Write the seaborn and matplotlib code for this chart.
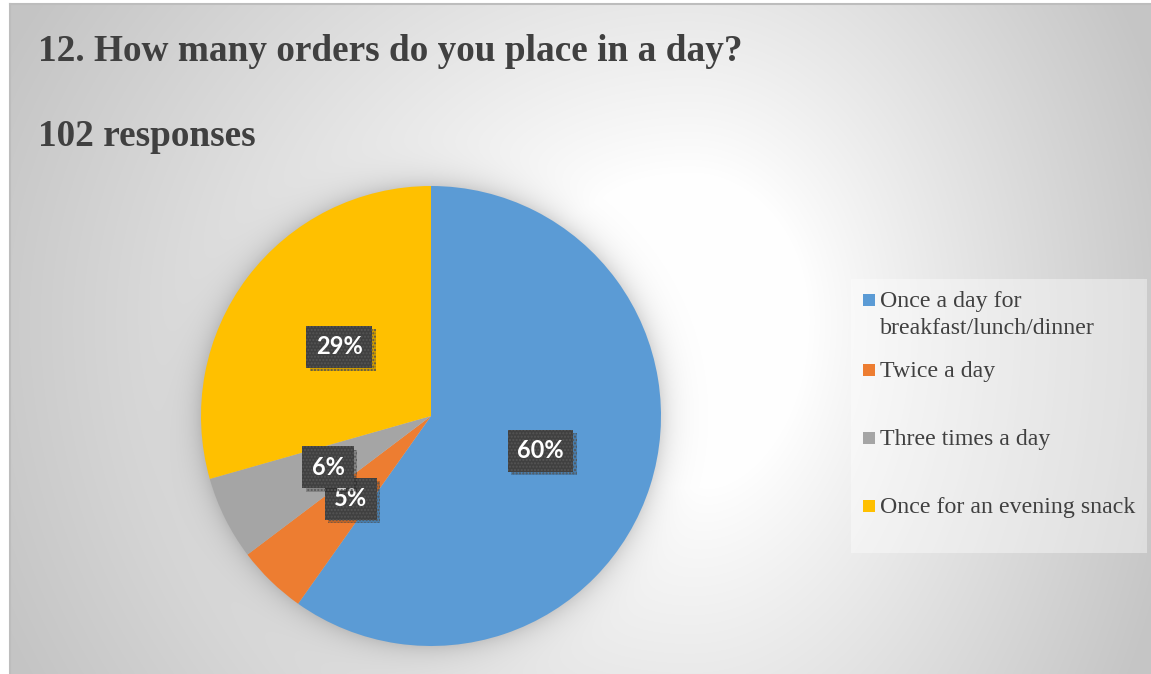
import numpy as np
import matplotlib
matplotlib.use('Agg')
import matplotlib.pyplot as plt
import matplotlib.patheffects as pe
from matplotlib.patches import Rectangle
import seaborn as sns

# ──────────────────────────────────────────────
# Data (Google Forms survey, 102 responses)
# ──────────────────────────────────────────────
TITLE      = "12. How many orders do you place in a day?"
SUBTITLE   = "102 responses"
CATEGORIES = ['Once a day for\nbreakfast/lunch/dinner', 'Twice a day',
              'Three times a day', 'Once for an evening snack']
COUNTS     = [61, 5, 6, 30]
COLORS     = ['#5B9BD5', '#ED7D31', '#A5A5A5', '#FFC000']

W, H = 1151, 674
TXT = '#404040'

sns.set_style('white')
palette = sns.color_palette(COLORS)


def fx(x):
    return x / W


def fy(y):
    return 1 - y / H


fig = plt.figure(figsize=(W / 100, H / 100), dpi=100)
fig.patch.set_facecolor('white')

# ── chart area background: light radial gradient + soft pie shadow ──
x0, y0 = 10, 4
bg = fig.add_axes([fx(x0), 0, fx(W - x0), (H - y0) / H])
xs = np.arange(x0, W) + 0.5
ys = np.arange(y0, H) + 0.5
X, Y = np.meshgrid(xs, ys)
cx, cy = 690, 320
u = np.where(X < cx, (X - cx) / (cx - x0), (X - cx) / (W - cx))
v = np.where(Y < cy, (Y - cy) / (1.8 * (cy - y0)), (Y - cy) / (1.9 * (H - cy)))
r = np.sqrt(u ** 2 + v ** 2)
val = 255 - 58 * np.clip((r - 0.25) / 0.85, 0, 1) ** 0.9
d = np.sqrt((X - 431) ** 2 + (Y - 416) ** 2) - 230
shadow = 0.15 * np.exp(-np.clip(d, 0, None) / 13)
val = val * (1 - shadow)
img = np.dstack([val, val, val]) / 255.0
bg.imshow(img, extent=(x0, W, H, y0), aspect='auto', interpolation='bilinear')
bg.set_xlim(x0, W)
bg.set_ylim(H, y0)
bg.set_xticks([])
bg.set_yticks([])
for side in ['right', 'bottom']:
    bg.spines[side].set_visible(False)
for side in ['left', 'top']:
    bg.spines[side].set_color('#bdbdbd')
    bg.spines[side].set_linewidth(1.5)

# ── titles ──
fig.text(fx(38), fy(61), TITLE, fontsize=26.8, fontweight='bold',
         family='Liberation Serif', color=TXT, va='baseline')
fig.text(fx(38), fy(146), SUBTITLE, fontsize=26.8, fontweight='bold',
         family='Liberation Serif', color=TXT, va='baseline')

# ── pie ──
R = 230
ax = fig.add_axes([fx(431 - R), fy(416 + R), 2 * R / W, 2 * R / H])
wedges, texts, autotexts = ax.pie(
    COUNTS, colors=palette, startangle=90, counterclock=False,
    autopct=lambda p: f'{p:.0f}%', pctdistance=0.5,
    wedgeprops=dict(linewidth=0),
    textprops=dict(color='white', fontsize=17, fontweight='bold',
                   family='Lato'))
ax.set_xlim(-1, 1)
ax.set_ylim(-1, 1)
ax.set_aspect('equal')
ax.axis('off')

for t in autotexts:
    t.set_bbox(dict(boxstyle='square,pad=0.4', facecolor='#404040',
                    edgecolor='#555555', linewidth=0, hatch='.....'))
    t.get_bbox_patch().set_path_effects(
        [pe.withSimplePatchShadow(offset=(2.5, -2.5), shadow_rgbFace='black', alpha=0.2),
         pe.Normal()])

# ── legend (Excel style, drawn by hand) ──
fig.patches.append(Rectangle((fx(851), fy(553)), (1147 - 851) / W, (553 - 279) / H,
                             transform=fig.transFigure, facecolor='white',
                             alpha=0.4, edgecolor='none', zorder=1))
leg_y = [300, 370, 438, 506]
for label, color, yc in zip(CATEGORIES, palette, leg_y):
    fig.patches.append(Rectangle((fx(863), fy(yc + 6)), 12 / W, 12 / H,
                                 transform=fig.transFigure, facecolor=color,
                                 edgecolor='none', zorder=2))
    for j, line in enumerate(label.split('\n')):
        fig.text(fx(880), fy(yc + 7 + 27 * j), line, fontsize=17.2,
                 family='Liberation Serif', color=TXT, va='baseline', zorder=3)

plt.savefig('out.png', dpi=100)
